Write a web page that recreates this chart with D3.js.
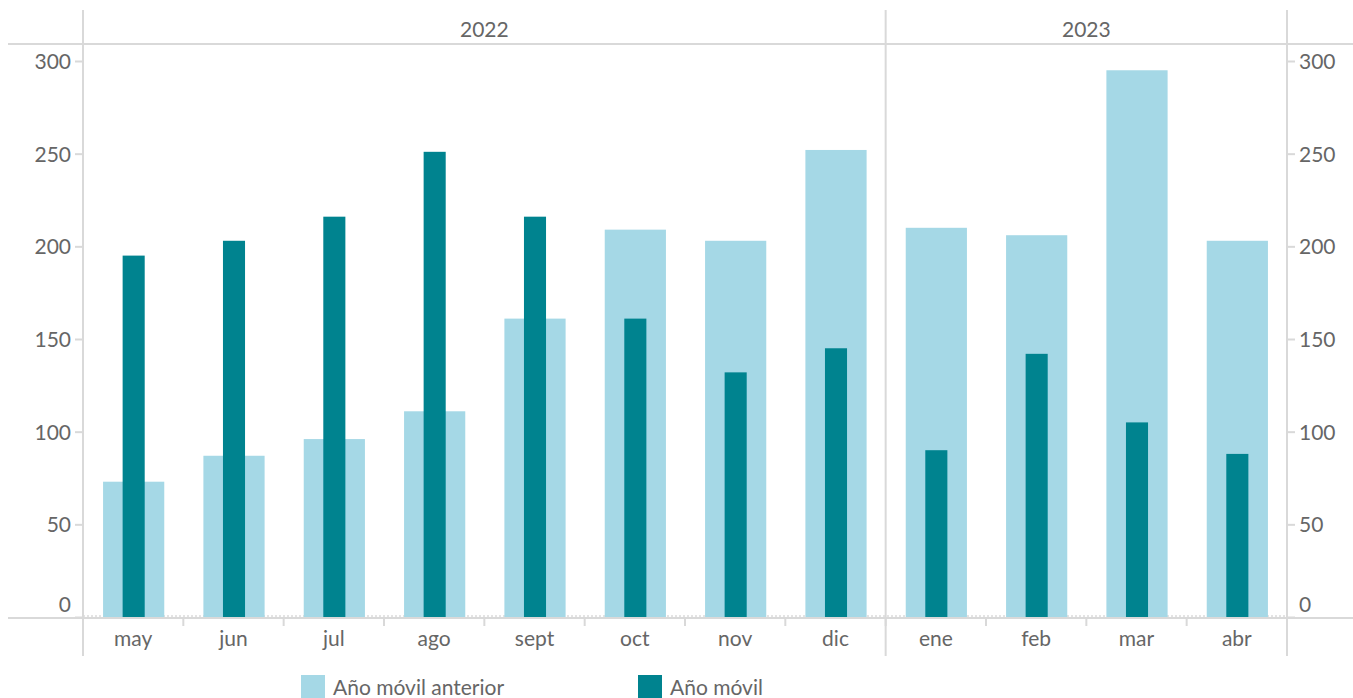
<!DOCTYPE html>
<html>
<head>
<meta charset="utf-8">
<script src="https://cdn.jsdelivr.net/npm/d3@7"></script>
<style>
  html, body { margin: 0; padding: 0; background: #fff; }
  svg { display: block; }
  text { font-family: Lato, "Open Sans", sans-serif; fill: #666; }
</style>
</head>
<body>
<svg id="chart" width="1353" height="698"></svg>
<script>
// ---- data ----
const months = ["may","jun","jul","ago","sept","oct","nov","dic","ene","feb","mar","abr"];
const years = ["2022","2022","2022","2022","2022","2022","2022","2022","2023","2023","2023","2023"];
const anioMovilAnterior = [73, 87, 96, 111, 161, 209, 203, 252, 210, 206, 295, 203];
const anioMovil = [195, 203, 216, 251, 216, 161, 132, 145, 90, 142, 105, 88];
const yTicks = [0, 50, 100, 150, 200, 250, 300];
const seriesNames = ["Año móvil anterior", "Año móvil"];

(function () {
// ---- layout ----
const svg = d3.select("#chart");
const W = 1353;
const FS = "21px";
const plotLeft = 83, plotRight = 1287, plotTop = 61, zeroY = 617;
const headerY = 44, lineTop = 10, lineBottom = 656, axisY = 618;
const colors = { light: "#a5d8e6", dark: "#00838f" };
const gridColor = "#d9d9d9";

const x = d3.scaleBand().domain(months).range([plotLeft, plotRight]).padding(0);
const y = d3.scaleLinear().domain([0, 300]).range([zeroY, plotTop]);

// dotted zero line
svg.append("line")
  .attr("x1", plotLeft).attr("x2", plotRight)
  .attr("y1", y(0) - 1).attr("y2", y(0) - 1)
  .attr("stroke", "#c8c8c8").attr("stroke-width", 1)
  .attr("stroke-dasharray", "2,2");

// bars
const bw = x.bandwidth();
const lightW = bw * 0.61, darkW = bw * 0.22;
svg.append("g").selectAll("rect").data(months).join("rect")
  .attr("x", (d) => x(d) + bw / 2 - lightW / 2 + 0.5)
  .attr("width", lightW)
  .attr("y", (d, i) => y(anioMovilAnterior[i]))
  .attr("height", (d, i) => y(0) - y(anioMovilAnterior[i]))
  .attr("fill", colors.light);
svg.append("g").selectAll("rect").data(months).join("rect")
  .attr("x", (d) => x(d) + bw / 2 - darkW / 2 + 0.5)
  .attr("width", darkW)
  .attr("y", (d, i) => y(anioMovil[i]))
  .attr("height", (d, i) => y(0) - y(anioMovil[i]))
  .attr("fill", colors.dark);

// frame lines
const yearGroups = d3.groups(months.map((m, i) => ({ m, yr: years[i] })), (d) => d.yr);
const dividerXs = [plotLeft];
yearGroups.forEach((g) => { dividerXs.push(x(g[1][g[1].length - 1].m) + bw); });

svg.append("line").attr("x1", 8).attr("x2", W).attr("y1", headerY).attr("y2", headerY)
  .attr("stroke", gridColor).attr("stroke-width", 2);
svg.append("line").attr("x1", 8).attr("x2", W).attr("y1", axisY).attr("y2", axisY)
  .attr("stroke", gridColor).attr("stroke-width", 2);
svg.append("g").selectAll("line").data(dividerXs).join("line")
  .attr("x1", (d) => d).attr("x2", (d) => d)
  .attr("y1", lineTop).attr("y2", lineBottom)
  .attr("stroke", gridColor).attr("stroke-width", 2);

// month separators
svg.append("g").selectAll("line").data(months.slice(1)).join("line")
  .attr("x1", (d) => x(d)).attr("x2", (d) => x(d))
  .attr("y1", axisY).attr("y2", axisY + 8)
  .attr("stroke", gridColor).attr("stroke-width", 2);

// year headers
svg.append("g").selectAll("text").data(yearGroups).join("text")
  .attr("x", (g) => (x(g[1][0].m) + x(g[1][g[1].length - 1].m) + bw) / 2)
  .attr("y", 37)
  .attr("text-anchor", "middle")
  .style("font-size", FS)
  .text((g) => g[0]);

// y axes
function styleAxis(g, labelX, anchor) {
  g.select(".domain").remove();
  g.selectAll(".tick line").attr("stroke", gridColor).attr("stroke-width", 2);
  g.selectAll(".tick text")
    .attr("x", labelX)
    .attr("dy", null)
    .attr("y", (d) => (d === 0 ? -6 : 7.5))
    .attr("text-anchor", anchor)
    .style("font-size", FS)
    .style("font-family", "Lato, 'Open Sans', sans-serif")
    .attr("fill", "#666");
}
svg.append("g").attr("transform", `translate(${plotLeft},0)`)
  .call(d3.axisLeft(y).tickValues(yTicks).tickSize(8).tickFormat(d3.format("d")))
  .call((g) => styleAxis(g, -12, "end"));
svg.append("g").attr("transform", `translate(${plotRight},0)`)
  .call(d3.axisRight(y).tickValues(yTicks).tickSize(8).tickFormat(d3.format("d")))
  .call((g) => styleAxis(g, 12, "start"));

// x axis labels
svg.append("g").attr("transform", `translate(0,${axisY})`)
  .call(d3.axisBottom(x).tickSize(0))
  .call((g) => {
    g.select(".domain").remove();
    g.selectAll(".tick text").attr("dy", null).attr("y", 28)
      .style("font-size", FS)
      .style("font-family", "Lato, 'Open Sans', sans-serif")
      .attr("fill", "#666");
  });

// legend
const legendX = [301, 638];
const lg = svg.append("g").selectAll("g").data(seriesNames).join("g")
  .attr("transform", (d, i) => `translate(${legendX[i]},675)`);
lg.append("rect").attr("width", 24).attr("height", 24)
  .attr("fill", (d, i) => (i === 0 ? colors.light : colors.dark));
lg.append("text").attr("x", 32).attr("y", 20)
  .style("font-size", FS).text((d) => d);
})();
</script>
</body>
</html>
